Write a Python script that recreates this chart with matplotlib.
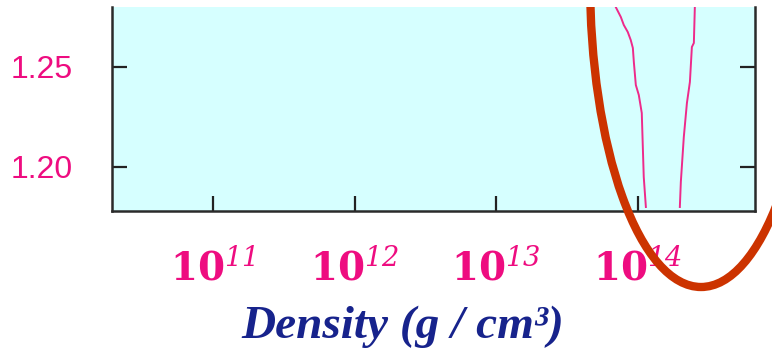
import numpy as np
import matplotlib.pyplot as plt
from matplotlib.patches import Ellipse, Rectangle
from matplotlib.ticker import NullLocator

# -----------------------------
# Data
# -----------------------------
# log10 of density (g/cm^3) and adiabatic index for the two curves
left_log_rho = [13.844, 13.880, 13.901, 13.929, 13.950, 13.965, 13.972,
                13.986, 14.007, 14.028, 14.042, 14.057]
left_gamma = [1.280, 1.275, 1.271, 1.2675, 1.2635, 1.2595, 1.2525,
              1.241, 1.236, 1.227, 1.195, 1.180]

right_log_rho = [14.403, 14.396, 14.382, 14.368, 14.347, 14.325, 14.304, 14.297]
right_gamma = [1.280, 1.262, 1.260, 1.2425, 1.232, 1.215, 1.1925, 1.180]

x_ticks = [1e11, 1e12, 1e13, 1e14]
x_tick_labels = [r"$\mathbf{10}^{11}$", r"$\mathbf{10}^{12}$",
                 r"$\mathbf{10}^{13}$", r"$\mathbf{10}^{14}$"]
y_ticks = [1.20, 1.25]
y_tick_labels = ["1.20", "1.25"]

pink = "#ee0c80"
navy = "#17238c"
W, H = 772, 354

# digits in mathtext always use the "rm" font, so make it italic for the exponents
plt.rcParams["mathtext.fontset"] = "custom"
plt.rcParams["mathtext.rm"] = "DejaVu Serif:italic"
plt.rcParams["mathtext.bf"] = "DejaVu Serif:bold"
plt.rcParams["mathtext.it"] = "DejaVu Serif:italic"

fig = plt.figure(figsize=(W / 100, H / 100), dpi=100)
ax = fig.add_axes([112 / W, (H - 211) / H, (755 - 112) / W, (211 - 7) / H])
ax.set_facecolor("#d6ffff")

ax.plot(10 ** np.array(left_log_rho), left_gamma, color="#ee2a8a", lw=1.4)
ax.plot(10 ** np.array(right_log_rho), right_gamma, color="#ee2a8a", lw=1.4)

ax.set_xscale("log")
ax.set_xlim(10 ** 10.285, 10 ** 14.828)
ax.set_ylim(1.178, 1.28)

ax.set_xticks(x_ticks)
ax.set_xticklabels(x_tick_labels, color=pink, fontsize=28)
ax.xaxis.set_minor_locator(NullLocator())
ax.set_yticks(y_ticks)
ax.set_yticklabels(y_tick_labels, color=pink, fontsize=23,
                   family="Liberation Sans")

ax.tick_params(axis="x", direction="in", length=11, width=1.6,
               color="#222222", pad=27)
ax.tick_params(axis="y", direction="in", length=11, width=1.6,
               color="#222222", pad=28, right=True, labelright=False)

for side in ["left", "bottom", "right"]:
    ax.spines[side].set_linewidth(1.8)
    ax.spines[side].set_color("#2a2a2a")
ax.spines["top"].set_visible(False)

ax.set_xlabel("Density (g / cm³)", family="Liberation Serif", style="italic",
              weight="bold", fontsize=34, color=navy)
ax.xaxis.set_label_coords((403 - 112) / 643, -0.465)

# red ellipse drawn over the chart, cut by the white strip at the top
ell = Ellipse((701 / W, (H + 20) / H), 222 / W, 614 / H,
              transform=fig.transFigure, fill=False, ec="#cc3300", lw=6)
fig.add_artist(ell)
ell.set_clip_path(Rectangle((0, 0), 1, (H - 7) / H, transform=fig.transFigure))

fig.savefig("out.png", dpi=100)
